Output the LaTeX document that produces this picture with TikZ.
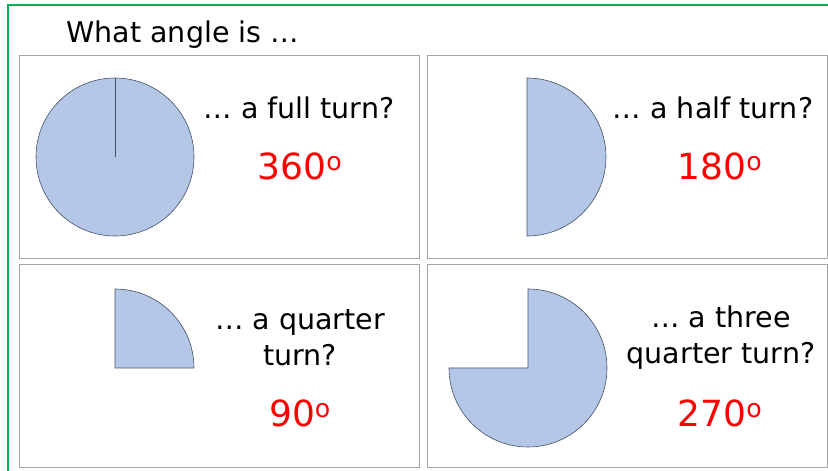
\documentclass[tikz,border=0pt]{standalone}
\usepackage{fontspec}
\setsansfont{DejaVu Sans}
\begin{document}
\begin{tikzpicture}[x=1pt,y=1pt,font=\sffamily,
  panel/.style={draw={rgb,255:red,165;green,165;blue,165},fill=white,minimum width=400pt,minimum height=203pt,inner sep=0pt},
  slice/.style={draw={rgb,255:red,70;green,82;blue,105},fill={rgb,255:red,180;green,199;blue,231},line width=.6pt},
  ask/.style={align=center,font=\sffamily\fontsize{28.5}{36}\selectfont},
  deg/.style={text=red,font=\sffamily\fontsize{36}{40}\selectfont}]
\clip (0,0) rectangle (828,471);
\fill[white] (0,0) rectangle (828,471);
\draw[draw={rgb,255:red,0;green,176;blue,80},line width=2.5pt] (8,-10) -- (8,466) -- (840,466);
\node[anchor=west,font=\sffamily\fontsize{28.5}{32}\selectfont] (title) at (63,436) {What angle is \dots};
% the four panels
\node[panel] (full) at (219,314.5) {};
\node[panel] (half) at (627,314.5) {};
\node[panel] (quarter) at (219,105.5) {};
\node[panel] (three) at (627,105.5) {};
% the shapes
\draw[slice] (115,314) circle[radius=79];
\draw[slice] (115,314) -- (115,393);
\draw[slice] (527,235) arc[start angle=-90,end angle=90,radius=79] -- cycle;
\draw[slice] (115,103) -- (194,103) arc[start angle=0,end angle=90,radius=79] -- cycle;
\draw[slice] (528,103) -- (528,182) arc[start angle=90,end angle=-180,radius=79] -- cycle;
% the questions and answers
\node[ask] (qfull) at (299,363) {\dots\ a full turn?};
\node[deg] (afull) at (300,305) {360\textsuperscript{o}};
\node[ask] (qhalf) at (713,363) {\dots\ a half turn?};
\node[deg] (ahalf) at (720,305) {180\textsuperscript{o}};
\node[ask] (qquarter) at (300,133) {\dots\ a quarter\\turn?};
\node[deg] (aquarter) at (300,58) {90\textsuperscript{o}};
\node[ask] (qthree) at (721,133) {\dots\ a three\\quarter turn?};
\node[deg] (athree) at (720,58) {270\textsuperscript{o}};
\end{tikzpicture}
\end{document}
